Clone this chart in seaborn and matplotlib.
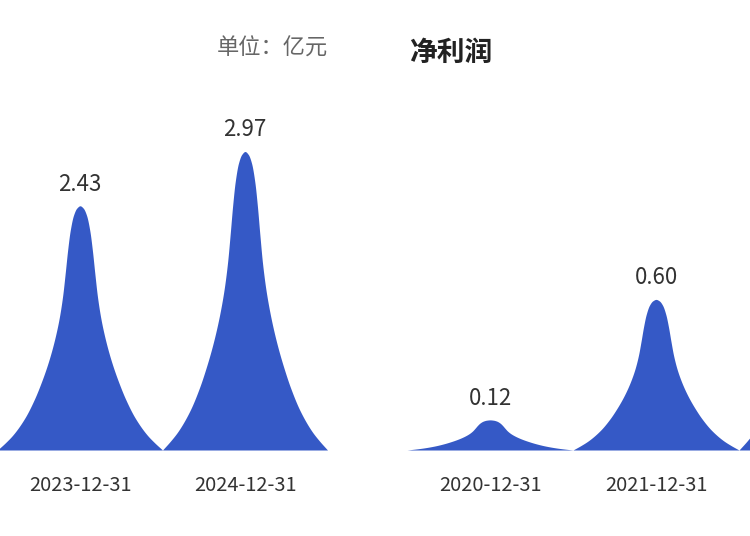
import numpy as np
import matplotlib
matplotlib.use("Agg")
import matplotlib.pyplot as plt
import seaborn as sns

# left panel (cut off at left edge of the picture)
left_dates = ['2023-12-31', '2024-12-31']
left_values = [2.43, 2.97]

# right panel: 净利润 (third peak is cut off at the right edge, value estimated)
right_dates = ['2020-12-31', '2021-12-31', '2022-12-31']
right_values = [0.12, 0.60, 1.19]

title = '净利润'
unit_text = '单位：亿元'

peak_color = '#3559C6'
text_color = '#333333'

sns.set_theme(style='white')
plt.rcParams['font.family'] = ['Noto Sans CJK SC', 'DejaVu Sans']

# outline of the "peak" symbol: half-width fraction -> height fraction
prof_u = np.array([0, 0.04, 0.08, 0.12, 0.15, 0.18, 0.21, 0.25, 0.29, 0.34, 0.40,
                   0.475, 0.55, 0.665, 0.81, 0.90, 1.0])
prof_h = np.array([1, 0.99, 0.96, 0.896, 0.818, 0.722, 0.632, 0.544, 0.478, 0.4105, 0.343,
                   0.272, 0.21, 0.133, 0.063, 0.031, 0])


def pchip(xk, yk, x, end_slope):
    # monotone cubic interpolation so the outline stays smooth
    hk = np.diff(xk)
    dk = np.diff(yk) / hk
    d = np.zeros_like(yk, dtype=float)
    for k in range(1, len(xk) - 1):
        if dk[k - 1] * dk[k] > 0:
            w1 = 2 * hk[k] + hk[k - 1]
            w2 = hk[k] + 2 * hk[k - 1]
            d[k] = (w1 + w2) / (w1 / dk[k - 1] + w2 / dk[k])
    d[0] = 0.0
    d[-1] = end_slope
    idx = np.clip(np.searchsorted(xk, x) - 1, 0, len(xk) - 2)
    t = (x - xk[idx]) / hk[idx]
    h00 = 2 * t**3 - 3 * t**2 + 1
    h10 = t**3 - 2 * t**2 + t
    h01 = -2 * t**3 + 3 * t**2
    h11 = t**3 - t**2
    return h00 * yk[idx] + h10 * hk[idx] * d[idx] + h01 * yk[idx + 1] + h11 * hk[idx] * d[idx + 1]


shape_u = np.linspace(-1, 1, 801)
shape_h = np.clip(pchip(prof_u, prof_h, np.abs(shape_u), -0.31), 0, 1)


def draw_peaks(ax, dates, values):
    for i, v in enumerate(values):
        xs = i + shape_u * 0.5
        ax.fill_between(xs, 0, v * shape_h, color=peak_color, linewidth=0)
        ax.annotate(f'{v:.2f}', (i, v), xytext=(0, 15.5), textcoords='offset points',
                    ha='center', va='center', fontsize=16, color=text_color)
    ax.set_xticks(range(len(dates)))
    ax.set_xticklabels(dates, fontsize=14.4, color=text_color)
    ax.set_yticks([])
    ax.tick_params(axis='x', length=0, pad=18)
    sns.despine(ax=ax, left=True, bottom=True)


fig = plt.figure(figsize=(7.5, 5.36), dpi=100)

ax1 = fig.add_axes([0, 86 / 536, 328 / 750, 400 / 536])
draw_peaks(ax1, left_dates, left_values)
ax1.set_xlim(-80 / 165, 1 + 83 / 165)
ax1.set_ylim(0, 400 / 100.5)

ax2 = fig.add_axes([407 / 750, 86 / 536, 343 / 750, 400 / 536])
draw_peaks(ax2, right_dates, right_values)
ax2.set_xlim(-0.5, 260 / 166)
ax2.set_ylim(0, 400 / 251)

fig.text(451 / 750, 1 - 53 / 536, title, ha='center', va='center',
         fontsize=20, fontweight='bold', color='#222222')
fig.text(272 / 750, 1 - 48 / 536, unit_text, ha='center', va='center',
         fontsize=16, color='#666666')

fig.savefig('out.png', dpi=100)
